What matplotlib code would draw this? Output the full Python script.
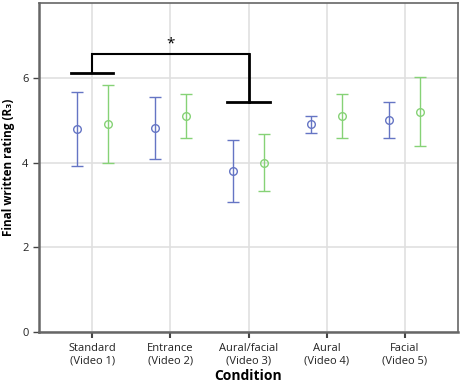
import numpy as np
import matplotlib
matplotlib.use("Agg")
import matplotlib.pyplot as plt

plt.rcParams['font.family'] = ['Open Sans', 'DejaVu Sans']

# Data (mean with lower/upper error bar ends)
conditions = ['Standard\n(Video 1)', 'Entrance\n(Video 2)', 'Aural/facial\n(Video 3)',
              'Aural\n(Video 4)', 'Facial\n(Video 5)']
blue_mean = [4.81, 4.83, 3.80, 4.91, 5.01]
blue_low = [3.92, 4.10, 3.07, 4.71, 4.59]
blue_high = [5.68, 5.56, 4.54, 5.11, 5.44]
green_mean = [4.92, 5.10, 4.00, 5.10, 5.21]
green_low = [4.00, 4.58, 3.33, 4.58, 4.40]
green_high = [5.84, 5.63, 4.68, 5.63, 6.02]

# significance bracket levels
left_bar = 6.13
bridge = 6.58
right_bar = 5.43
star_y = 6.82

blue = '#6575c4'
green = '#86d276'

fig = plt.figure(figsize=(4.61, 3.83), dpi=100)
ax = fig.add_axes([39 / 461, 1 - 332 / 383, (458 - 39) / 461, (332 - 3) / 383])

x = np.arange(len(conditions))
off = 0.2

def draw(xpos, mean, low, high, color):
    mean = np.array(mean)
    yerr = [mean - np.array(low), np.array(high) - mean]
    ax.errorbar(xpos, mean, yerr=yerr, fmt='o', mfc='none', mec=color, ms=5.5,
                mew=1.0, ecolor=color, elinewidth=1.0, capsize=4, capthick=1.0,
                zorder=3)

draw(x - off, blue_mean, blue_low, blue_high, blue)
draw(x + off, green_mean, green_low, green_high, green)

# bracket
ax.plot([-0.27, 0.27], [left_bar, left_bar], color='black', lw=2, zorder=4)
ax.plot([0, 0, 2], [left_bar, bridge, bridge], color='black', lw=1.5,
        zorder=4, solid_joinstyle='miter')
ax.plot([2, 2], [bridge, right_bar], color='black', lw=2, zorder=4)
ax.plot([1.73, 2.28], [right_bar, right_bar], color='black', lw=2, zorder=4)
ax.text(1, star_y, '*', ha='center', va='center', fontsize=11)

ax.set_xlim(-0.68, 4.68)
ax.set_ylim(0, 7.78)
ax.set_xticks(x)
ax.set_xticklabels(conditions, fontsize=8, color='#222222')
ax.set_yticks([0, 2, 4, 6])
ax.tick_params(axis='y', labelsize=8, length=4, width=1, colors='#444444', labelcolor='#222222')
ax.tick_params(axis='x', length=4, width=1.5, colors='#444444', labelcolor='#222222', pad=4)
ax.grid(True, color='#e0e0e0', lw=1.2)
ax.set_axisbelow(True)
for s in ax.spines.values():
    s.set_color('#666666')
    s.set_linewidth(1.2)
ax.spines['left'].set_linewidth(1.8)
ax.spines['bottom'].set_linewidth(1.8)

ax.set_xlabel('Condition', fontsize=10, fontweight='bold', labelpad=2)
ax.set_ylabel('Final written rating (R\u2083)', fontsize=8.5, fontweight='bold', labelpad=5)

fig.savefig('out.png', dpi=100)
